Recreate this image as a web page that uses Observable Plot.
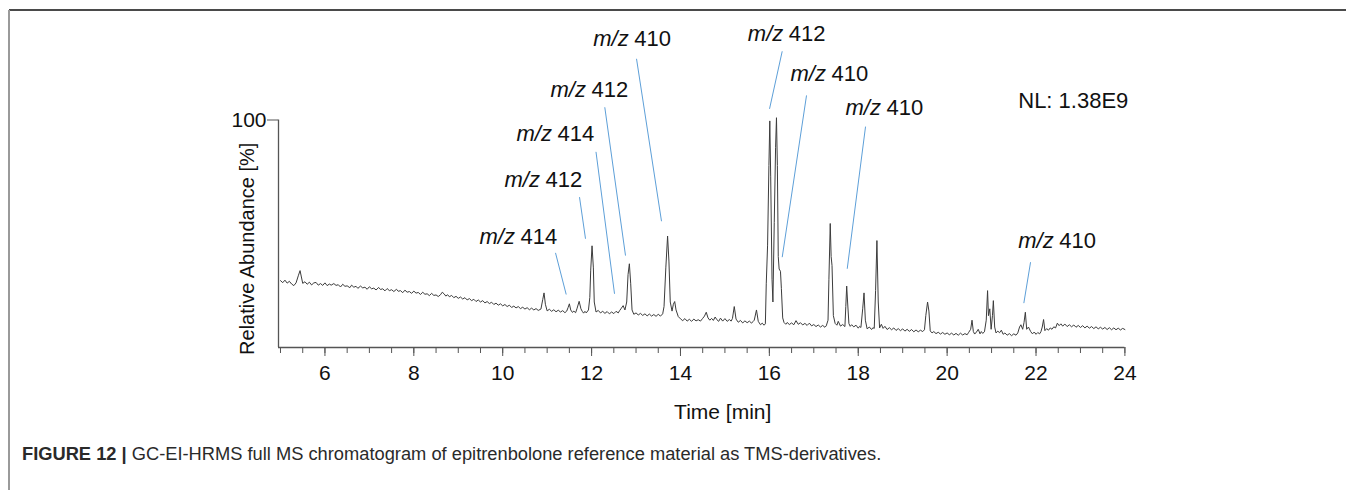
<!DOCTYPE html>
<html>
<head>
<meta charset="utf-8">
<script src="https://cdn.jsdelivr.net/npm/d3@7"></script>
<script src="https://cdn.jsdelivr.net/npm/@observablehq/plot@0.6"></script>
<style>
  html, body { margin: 0; padding: 0; background: #fff; }
  #fig { position: relative; width: 1346px; height: 490px; overflow: hidden; font-family: "Liberation Sans", Arial, sans-serif; }
  #chart { position: absolute; left: 0; top: 0; }
  #topline { position: absolute; left: 9px; top: 9px; width: 1337px; height: 0; border-top: 2px solid #4a4a4a; }
  #leftline { position: absolute; left: 8px; top: 10px; width: 0; height: 480px; border-left: 2px solid #9a9a9a; }
  #caption { position: absolute; left: 22px; top: 443px; font-size: 18.3px; color: #2a2a2a; white-space: nowrap; }
  #caption b { font-weight: bold; }
</style>
</head>
<body>
<div id="fig">
  <div id="chart"></div>
  <div id="topline"></div>
  <div id="leftline"></div>
  <div id="caption"><b>FIGURE 12 |</b> GC-EI-HRMS full MS chromatogram of epitrenbolone reference material as TMS-derivatives.</div>
</div>
<script>
// ---- data ----
const timeDomain = [4.955, 24];
const minorTicks = [5, 5.5, 6, 6.5, 7, 7.5, 8, 8.5, 9, 9.5, 10, 10.5, 11, 11.5, 12, 12.5, 13, 13.5, 14, 14.5, 15, 15.5, 16, 16.5, 17, 17.5, 18, 18.5, 19, 19.5, 20, 20.5, 21, 21.5, 22, 22.5, 23, 23.5, 24];
const majorTicks = [6, 8, 10, 12, 14, 16, 18, 20, 22, 24];
const yTicks = [100];

// chromatogram trace: [time (min), relative abundance (%)]
const trace = [
  [5.00,29.4],[5.05,28.5],[5.10,29.6],[5.15,28.3],[5.20,29.1],[5.25,27.9],[5.30,27.2],[5.35,28.4],[5.40,31.5],[5.44,33.8],[5.47,31.0],[5.50,28.2],[5.55,28.9],[5.60,27.8],[5.65,28.7],[5.70,27.5],[5.75,28.4],[5.80,28.6],[5.85,27.4],[5.90,28.1],[5.95,27.3],
  [6.00,28.4],[6.05,27.2],[6.10,27.9],[6.14,27.4],[6.20,28.1],[6.25,27.3],[6.30,27.6],[6.35,26.6],[6.40,27.8],[6.45,26.9],[6.50,27.1],[6.56,26.3],[6.60,27.4],[6.65,26.5],[6.70,26.9],[6.74,26.0],[6.80,27.0],[6.85,26.2],[6.90,26.5],[6.95,25.6],
  [7.00,26.7],[7.05,25.8],[7.10,26.1],[7.15,25.3],[7.21,26.4],[7.25,25.5],[7.30,25.8],[7.35,24.9],[7.40,25.9],[7.45,25.0],[7.50,25.4],[7.55,24.6],[7.61,25.6],[7.65,24.7],[7.70,25.0],[7.75,24.1],[7.80,25.2],[7.85,24.3],[7.90,24.6],[7.95,23.8],
  [8.00,24.8],[8.05,23.9],[8.10,24.2],[8.15,23.3],[8.20,24.3],[8.25,23.4],[8.30,23.6],[8.35,22.8],[8.40,23.8],[8.45,22.9],[8.50,23.1],[8.55,22.4],[8.60,23.2],[8.64,24.3],[8.68,23.6],[8.72,22.6],[8.76,23.2],[8.80,22.3],[8.85,22.9],[8.90,21.9],[8.95,22.5],
  [9.00,21.6],[9.05,22.2],[9.10,21.3],[9.15,21.9],[9.20,20.9],[9.25,21.5],[9.30,20.6],[9.35,21.2],[9.40,20.2],[9.45,20.9],[9.50,20.0],[9.55,20.6],[9.60,19.6],[9.65,20.2],[9.70,19.3],[9.75,19.9],[9.80,18.9],[9.85,19.5],[9.90,18.6],[9.95,19.2],
  [10.00,18.3],[10.05,18.9],[10.10,18.0],[10.15,18.6],[10.20,17.6],[10.25,18.2],[10.30,17.4],[10.35,18.0],[10.40,17.1],[10.45,17.7],[10.50,16.9],[10.55,17.5],[10.60,16.6],[10.65,17.3],[10.70,16.5],[10.75,17.1],[10.80,16.3],[10.86,16.9],[10.90,21.0],[10.93,24.0],[10.96,19.0],
  [11.00,16.1],[11.05,16.8],[11.10,15.9],[11.15,16.6],[11.20,15.7],[11.25,16.4],[11.30,15.6],[11.35,16.2],[11.40,15.3],[11.44,16.0],[11.47,17.5],[11.50,19.2],[11.53,16.5],[11.57,15.4],[11.60,16.0],[11.64,15.3],[11.67,17.0],[11.72,20.3],[11.76,17.0],[11.79,15.9],[11.82,15.1],[11.85,15.9],[11.88,15.2],[11.93,16.5],[11.96,22.0],[11.98,34.0],
  [12.01,44.7],[12.04,35.0],[12.06,20.0],[12.10,15.6],[12.15,16.3],[12.20,15.2],[12.25,15.9],[12.30,15.0],[12.35,15.8],[12.40,14.8],[12.45,15.6],[12.50,14.9],[12.55,15.9],[12.60,15.2],[12.63,16.2],[12.66,17.0],[12.71,18.4],[12.75,16.5],[12.79,20.0],[12.82,32.0],[12.85,36.8],[12.88,28.0],[12.91,16.5],[12.95,14.6],
  [13.00,15.2],[13.05,14.3],[13.10,15.0],[13.15,14.1],[13.20,14.8],[13.25,13.9],[13.30,14.7],[13.35,13.8],[13.40,14.5],[13.45,13.7],[13.50,14.6],[13.55,13.8],[13.60,14.8],[13.63,18.0],[13.67,35.0],[13.71,49.0],[13.74,38.0],[13.77,20.0],[13.81,16.0],[13.84,19.0],[13.87,20.2],[13.90,16.5],[13.95,13.6],
  [14.00,12.6],[14.05,11.8],[14.10,12.7],[14.15,11.6],[14.20,12.4],[14.25,11.5],[14.30,12.5],[14.35,11.7],[14.40,12.2],[14.45,11.6],[14.50,12.8],[14.54,13.8],[14.58,15.5],[14.62,13.0],[14.66,12.0],[14.70,12.8],[14.74,11.9],[14.78,13.4],[14.82,12.2],[14.86,11.5],[14.90,12.9],[14.95,11.6],
  [15.00,12.7],[15.05,11.5],[15.10,12.3],[15.14,11.6],[15.17,12.8],[15.21,18.0],[15.25,12.5],[15.30,11.1],[15.35,11.9],[15.40,10.8],[15.45,11.7],[15.50,10.9],[15.55,11.6],[15.60,10.7],[15.63,11.4],[15.66,12.0],[15.71,16.5],[15.75,11.5],[15.80,10.0],[15.84,10.7],[15.88,9.8],[15.91,10.4],[15.93,28.0],[15.96,45.0],[15.99,80.0],
  [16.01,99.6],[16.03,75.0],[16.06,30.0],[16.08,20.0],[16.11,55.0],[16.14,88.0],[16.16,101.0],[16.18,80.0],[16.20,40.0],[16.22,34.5],[16.25,33.5],[16.27,26.0],[16.30,13.0],[16.33,11.0],[16.37,10.2],[16.40,11.0],[16.45,10.1],[16.50,10.8],[16.55,10.0],[16.60,11.8],[16.65,10.2],[16.70,10.9],[16.75,9.9],[16.80,10.6],[16.85,9.7],[16.90,10.7],[16.95,9.5],
  [17.00,10.1],[17.05,9.2],[17.10,9.9],[17.15,9.0],[17.20,9.7],[17.25,8.9],[17.28,9.5],[17.32,12.0],[17.34,30.0],[17.37,54.5],[17.39,40.0],[17.41,36.0],[17.44,14.0],[17.48,10.6],[17.52,9.8],[17.55,11.5],[17.60,9.4],[17.65,10.1],[17.70,9.2],[17.72,18.0],[17.74,27.0],[17.76,20.0],[17.79,10.5],[17.82,9.3],[17.85,10.0],[17.90,9.1],[17.95,9.8],
  [18.00,8.5],[18.03,9.3],[18.06,8.8],[18.10,17.0],[18.13,24.0],[18.16,12.0],[18.20,8.2],[18.25,9.0],[18.30,7.9],[18.33,8.7],[18.36,8.4],[18.39,25.0],[18.42,47.0],[18.45,20.0],[18.48,8.6],[18.52,10.2],[18.56,8.4],[18.60,9.3],[18.65,7.9],[18.70,8.7],[18.75,7.8],[18.80,8.6],[18.85,7.5],[18.90,8.3],[18.95,7.4],
  [19.00,8.2],[19.05,7.2],[19.10,8.0],[19.15,7.1],[19.20,7.9],[19.25,6.9],[19.30,7.7],[19.35,6.9],[19.40,7.6],[19.45,7.0],[19.49,7.8],[19.52,14.0],[19.56,20.0],[19.59,16.0],[19.62,7.3],[19.66,6.4],[19.70,7.0],[19.75,6.1],[19.80,6.7],[19.85,5.9],[19.90,6.6],[19.95,5.8],
  [20.00,6.4],[20.05,5.6],[20.10,6.3],[20.15,5.5],[20.20,6.2],[20.25,5.4],[20.30,6.3],[20.35,5.5],[20.40,6.1],[20.45,5.6],[20.48,6.5],[20.53,8.0],[20.56,12.0],[20.59,7.0],[20.62,5.9],[20.66,6.8],[20.70,8.0],[20.74,6.0],[20.77,7.0],[20.80,6.2],[20.84,6.9],[20.88,12.0],[20.91,25.0],[20.93,14.0],[20.96,17.0],[20.99,8.0],
  [21.02,14.0],[21.04,20.6],[21.07,9.0],[21.10,6.4],[21.14,7.2],[21.18,6.5],[21.22,7.6],[21.26,5.8],[21.30,6.4],[21.35,5.4],[21.40,6.1],[21.45,5.2],[21.50,6.0],[21.55,5.4],[21.59,6.4],[21.63,9.0],[21.66,10.0],[21.70,8.0],[21.73,11.0],[21.76,15.5],[21.79,8.0],[21.83,9.0],[21.88,7.0],[21.92,6.0],[21.96,6.8],
  [22.00,5.8],[22.04,6.6],[22.08,6.0],[22.11,6.9],[22.14,9.0],[22.17,12.3],[22.20,7.4],[22.24,8.3],[22.28,7.6],[22.32,8.6],[22.36,8.0],[22.40,9.1],[22.44,8.6],[22.48,10.7],[22.52,9.6],[22.56,10.4],[22.60,9.4],[22.65,10.3],[22.70,9.2],[22.75,10.0],[22.80,9.1],[22.85,9.9],[22.90,8.9],[22.95,9.7],
  [23.00,8.8],[23.05,9.6],[23.10,8.6],[23.15,9.4],[23.20,8.5],[23.25,9.2],[23.30,8.3],[23.35,9.1],[23.40,8.2],[23.45,8.9],[23.50,8.1],[23.55,8.8],[23.60,7.9],[23.65,8.7],[23.70,7.8],[23.75,8.6],[23.80,7.8],[23.85,8.5],[23.90,7.7],[23.95,8.4],[24.00,7.9]
];

// peak annotations
const labelMass  = ["414", "412", "414", "412", "410", "412", "410", "410", "410"];
const labelTime  = [9.478, 10.04, 10.31, 11.075, 12.036, 15.515, 16.476, 17.714, 21.6];
const labelLevel = [45.3, 70.5, 90.7, 110.0, 132.7, 134.6, 117.1, 102.0, 43.8];
const leaderTopTime   = [11.188, 11.728, 12.099, 12.297, 13.011, 16.289, 16.836, 18.164, 21.877];
const leaderTopLevel  = [41.6, 66.1, 86.0, 105.6, 126.9, 130.2, 110.8, 97.1, 37.5];
const leaderPeakTime  = [11.429, 11.863, 12.516, 12.763, 13.573, 16.004, 16.289, 17.752, 21.726];
const leaderPeakLevel = [23.3, 47.8, 23.6, 40.4, 55.5, 104.9, 39.7, 34.6, 19.5];
const normLevelText = ["NL: 1.38E9"];
const normLevelTime = [21.6];
const normLevelLevel = [105.4];

// ---- chart ----
const idx = d3.range(labelMass.length);
const W = 1346, H = 430;
const chart = Plot.plot({
  width: W,
  height: H,
  marginLeft: 278,
  marginRight: 221.6,
  marginTop: 119.5,
  marginBottom: 83,
  x: {domain: timeDomain, axis: null},
  y: {domain: [0, 100], axis: null},
  style: {fontFamily: "'Liberation Sans', Arial, sans-serif", background: "transparent", color: "#111"},
  marks: [
    Plot.ruleY([0], {stroke: "#555", strokeWidth: 1.3}),
    Plot.ruleX([timeDomain[0]], {stroke: "#555", strokeWidth: 1.3}),
    Plot.axisX(minorTicks, {anchor: "bottom", tickSize: 6, tickFormat: () => "", stroke: "#555", label: null}),
    Plot.axisX(majorTicks, {anchor: "bottom", tickSize: 9, tickPadding: 9, fontSize: 21, stroke: "#555", fill: "#111", label: null}),
    Plot.axisY(yTicks, {anchor: "left", tickSize: 11, tickPadding: 1, fontSize: 21, stroke: "#555", fill: "#111", label: null}),
    Plot.text(["Relative Abundance [%]"], {frameAnchor: "left", textAnchor: "middle", rotate: -90, dx: -31, dy: 15, fontSize: 20, fill: "#111"}),
    Plot.text(["Time [min]"], {frameAnchor: "bottom", textAnchor: "middle", lineAnchor: "bottom", dx: 21, dy: 71, fontSize: 21, fill: "#111"}),
    Plot.line(trace, {x: d => d[0], y: d => d[1], stroke: "#3c3c3c", strokeWidth: 1}),
    Plot.link(idx, {x1: i => leaderPeakTime[i], y1: i => leaderPeakLevel[i], x2: i => leaderTopTime[i], y2: i => leaderTopLevel[i], stroke: "#5d9fd8", strokeWidth: 1}),
    Plot.text(idx, {x: i => labelTime[i], y: i => labelLevel[i], text: () => "m/z", fontStyle: "italic", textAnchor: "start", lineAnchor: "bottom", fontSize: 22, fill: "#111"}),
    Plot.text(idx, {x: i => labelTime[i], y: i => labelLevel[i], text: i => labelMass[i], dx: 41, textAnchor: "start", lineAnchor: "bottom", fontSize: 22, fill: "#111"}),
    Plot.text(normLevelText, {x: (d, i) => normLevelTime[i], y: (d, i) => normLevelLevel[i], textAnchor: "start", lineAnchor: "bottom", fontSize: 22, fill: "#111"})
  ]
});
document.getElementById("chart").appendChild(chart);
</script>
</body>
</html>
